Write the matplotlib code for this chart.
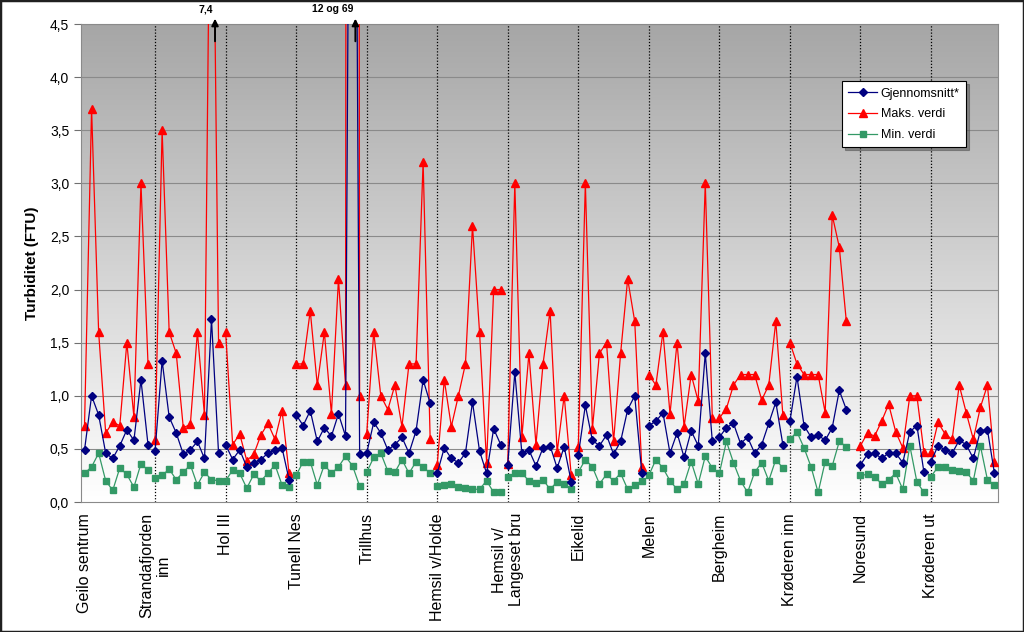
import numpy as np
import matplotlib
matplotlib.use("Agg")
import matplotlib.pyplot as plt
from matplotlib.colors import LinearSegmentedColormap
from matplotlib.patches import Rectangle

plt.rcParams['font.family'] = ['Liberation Sans', 'DejaVu Sans']

nan = np.nan

stations = ["Geilo sentrum", "Strandafjorden\ninn", "Hol III", "Tunell Nes", "Trillhus",
            "Hemsil v/Holde", "Hemsil v/\nLangeset bru", "Eikelid", "Melen", "Bergheim",
            "Krøderen inn", "Noresund", "Krøderen ut"]

# one list of 10 samples per station
snitt = [
    [0.49, 1.0, 0.82, 0.46, 0.41, 0.53, 0.68, 0.58, 1.15, 0.54],
    [0.48, 1.33, 0.8, 0.65, 0.45, 0.49, 0.57, 0.41, 1.72, 0.46],
    [0.54, 0.40, 0.49, 0.33, 0.37, 0.40, 0.46, 0.49, 0.51, 0.21],
    [0.82, 0.72, 0.86, 0.57, 0.7, 0.62, 0.83, 0.62, 12, 0.45],
    [0.46, 0.75, 0.65, 0.49, 0.54, 0.61, 0.46, 0.67, 1.15, 0.93],
    [0.27, 0.51, 0.41, 0.37, 0.46, 0.94, 0.48, 0.27, 0.69, 0.54],
    [0.35, 1.22, 0.46, 0.49, 0.34, 0.51, 0.53, 0.32, 0.52, 0.19],
    [0.44, 0.91, 0.58, 0.53, 0.63, 0.45, 0.57, 0.87, 1.0, 0.27],
    [0.72, 0.76, 0.84, 0.46, 0.65, 0.42, 0.67, 0.53, 1.4, 0.57],
    [0.61, 0.7, 0.74, 0.55, 0.61, 0.46, 0.54, 0.74, 0.94, 0.54],
    [0.76, 1.18, 0.72, 0.61, 0.63, 0.58, 0.7, 1.05, 0.87, nan],
    [0.35, 0.45, 0.46, 0.41, 0.46, 0.46, 0.37, 0.66, 0.72, 0.28],
    [0.38, 0.53, 0.49, 0.46, 0.58, 0.54, 0.41, 0.67, 0.68, 0.27],
]

maks = [
    [0.72, 3.7, 1.6, 0.65, 0.75, 0.72, 1.5, 0.8, 3.0, 1.3],
    [0.58, 3.5, 1.6, 1.4, 0.7, 0.73, 1.6, 0.82, 7.4, 1.5],
    [1.6, 0.54, 0.64, 0.39, 0.45, 0.63, 0.74, 0.59, 0.86, 0.27],
    [1.3, 1.3, 1.8, 1.1, 1.6, 0.83, 2.1, 1.1, 69, 1.0],
    [0.64, 1.6, 1.0, 0.87, 1.1, 0.71, 1.3, 1.3, 3.2, 0.59],
    [0.35, 1.15, 0.71, 1.0, 1.3, 2.6, 1.6, 0.37, 2.0, 2.0],
    [0.36, 3.0, 0.61, 1.4, 0.54, 1.3, 1.8, 0.47, 1.0, 0.25],
    [0.52, 3.0, 0.69, 1.4, 1.5, 0.57, 1.4, 2.1, 1.7, 0.33],
    [1.2, 1.1, 1.6, 0.83, 1.5, 0.71, 1.2, 0.95, 3.0, 0.79],
    [0.79, 0.88, 1.1, 1.2, 1.2, 1.2, 0.96, 1.1, 1.7, 0.82],
    [1.5, 1.3, 1.2, 1.2, 1.2, 0.84, 2.7, 2.4, 1.7, nan],
    [0.53, 0.65, 0.62, 0.76, 0.92, 0.66, 0.51, 1.0, 1.0, 0.47],
    [0.47, 0.75, 0.64, 0.59, 1.1, 0.84, 0.59, 0.89, 1.1, 0.38],
]

minv = [
    [0.27, 0.33, 0.46, 0.2, 0.11, 0.32, 0.26, 0.14, 0.36, 0.30],
    [0.23, 0.25, 0.31, 0.21, 0.28, 0.35, 0.16, 0.28, 0.21, 0.2],
    [0.2, 0.3, 0.27, 0.13, 0.26, 0.2, 0.27, 0.35, 0.16, 0.14],
    [0.25, 0.38, 0.38, 0.16, 0.35, 0.27, 0.33, 0.43, 0.34, 0.15],
    [0.28, 0.42, 0.46, 0.29, 0.28, 0.4, 0.27, 0.38, 0.33, 0.27],
    [0.15, 0.16, 0.17, 0.14, 0.13, 0.12, 0.12, 0.2, 0.09, 0.09],
    [0.24, 0.27, 0.27, 0.2, 0.18, 0.21, 0.12, 0.19, 0.17, 0.12],
    [0.28, 0.4, 0.33, 0.17, 0.26, 0.2, 0.27, 0.12, 0.16, 0.2],
    [0.25, 0.4, 0.32, 0.2, 0.12, 0.17, 0.38, 0.17, 0.43, 0.32],
    [0.27, 0.57, 0.37, 0.2, 0.09, 0.28, 0.37, 0.2, 0.4, 0.32],
    [0.59, 0.66, 0.51, 0.33, 0.09, 0.38, 0.34, 0.57, 0.52, nan],
    [0.25, 0.26, 0.24, 0.17, 0.21, 0.27, 0.12, 0.53, 0.19, 0.09],
    [0.24, 0.33, 0.33, 0.3, 0.29, 0.28, 0.2, 0.53, 0.21, 0.16],
]

yticks = [0.0, 0.5, 1.0, 1.5, 2.0, 2.5, 3.0, 3.5, 4.0, 4.5]
n_per = 10
n_tot = n_per * len(stations)

fig = plt.figure(figsize=(10.24, 6.32), dpi=100)
ax = fig.add_axes([81 / 1024, 1 - 502 / 632, 917 / 1024, 478 / 632])

# gradient plot area
grad = LinearSegmentedColormap.from_list("g", ["#ffffff", "#a6a6a6"])
ax.imshow(np.linspace(0, 1, 256).reshape(-1, 1), cmap=grad, origin="lower", aspect="auto",
          extent=(-0.5, n_tot - 0.5, 0, 4.5), zorder=0)

for y in yticks[1:]:
    ax.axhline(y, color="#8a8a8a", lw=0.8, zorder=1)
for k in range(1, len(stations)):
    ax.axvline(k * n_per, color="black", lw=0.9, ls=(0, (1, 1.5)), zorder=1)

styles = [
    (maks, "Maks. verdi", dict(color="#ff0000", marker="^", ms=5.5, lw=0.9), 3),
    (minv, "Min. verdi", dict(color="#339966", marker="s", ms=5, lw=0.9), 3),
    (snitt, "Gjennomsnitt*", dict(color="#000080", marker="D", ms=4, lw=0.9), 4),
]
handles = {}
for data, label, st, z in styles:
    for g, vals in enumerate(data):
        xs = np.arange(g * n_per, g * n_per + len(vals))
        ln, = ax.plot(xs, vals, zorder=z, **st)
    handles[label] = ln

ax.set_xlim(-0.5, n_tot - 0.5)
ax.set_ylim(0, 4.5)
ax.set_yticks(yticks)
ax.set_yticklabels([f"{v:.1f}".replace(".", ",") for v in yticks], fontsize=10)
ax.set_xticks(np.arange(0, n_tot, n_per))
ax.set_xticklabels(stations, rotation=90, fontsize=11.5, va="top", ha="center",
                   multialignment="center")
ax.set_xticks(np.arange(n_per, n_tot, n_per), minor=True)
ax.tick_params(axis="x", which="major", length=0, pad=8)
ax.tick_params(axis="x", which="minor", length=5, color="#707070")
ax.tick_params(axis="y", length=5, color="#707070")
for s in ax.spines.values():
    s.set_color("#8a8a8a")
    s.set_linewidth(0.8)
ax.set_ylabel("Turbiditet (FTU)", fontsize=11, fontweight="bold", labelpad=8)

leg = ax.legend([handles["Gjennomsnitt*"], handles["Maks. verdi"], handles["Min. verdi"]],
                ["Gjennomsnitt*", "Maks. verdi", "Min. verdi"],
                loc="upper left", bbox_to_anchor=(0.823, 0.893), fontsize=9,
                fancybox=False, shadow=True, framealpha=1, edgecolor="black",
                handlelength=2.3, labelspacing=0.7, borderpad=0.5, handletextpad=0.3)
leg.get_frame().set_linewidth(0.8)

# arrows for values above the axis
xt = ax.get_xaxis_transform()
for xpos, txt in [(18.5, "7,4"), (38.4, "12 og 69")]:
    ax.annotate("", xy=(xpos, 1.017), xytext=(xpos, 0.958), xycoords=xt, textcoords=xt,
                arrowprops=dict(arrowstyle="-|>", color="black", lw=1.4, mutation_scale=10),
                annotation_clip=False, zorder=6)
    ax.text(xpos - 0.3, 1.02, txt, transform=xt, ha="right", va="bottom",
            fontsize=7.5, fontweight="bold")

fig.patches.append(Rectangle((0, 0), 1, 1, transform=fig.transFigure, fill=False,
                             edgecolor="#202020", lw=2.5))

fig.savefig("out.png", dpi=100)
